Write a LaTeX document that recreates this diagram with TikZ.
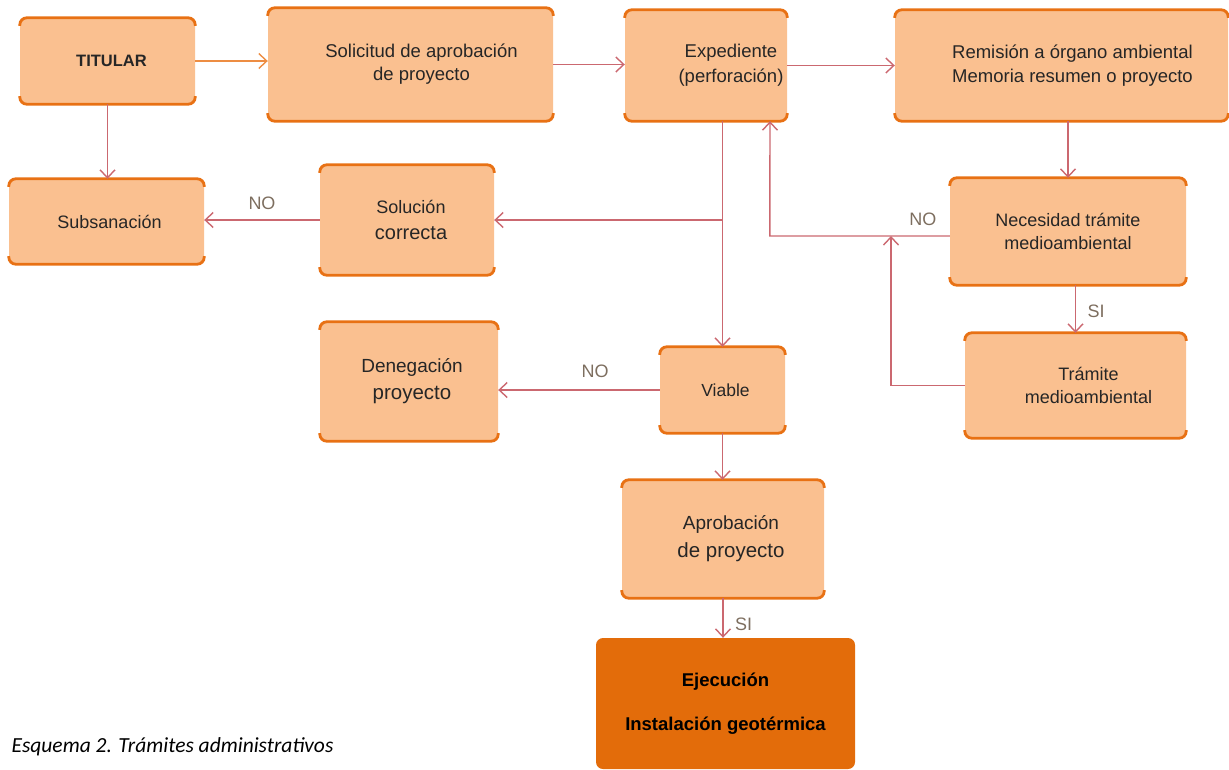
\documentclass[tikz,border=0pt]{standalone}
\usepackage{fontspec}
\setmainfont{Liberation Sans}
\newfontfamily\capfont{Carlito}
\usetikzlibrary{arrows.meta, positioning}

\definecolor{boxfill}{RGB}{250,192,144}
\definecolor{rimc}{RGB}{232,113,20}
\definecolor{darkfill}{RGB}{227,108,10}
\definecolor{linkc}{RGB}{203,104,112}
\definecolor{tagc}{RGB}{125,110,95}

\newcommand{\fs}[2]{\fontsize{#1}{#2}\selectfont}

\begin{document}
\begin{tikzpicture}[
    x=1pt, y=-1pt,
    box/.style={fill=boxfill, rounded corners=7pt, align=center, inner sep=0pt, text=black!85},
    rim/.style={draw=rimc, line width=2.8pt, rounded corners=7pt},
    link/.style={draw=linkc, line width=1.4pt, -{Straight Barb[length=8pt, width=15pt]}},
    tag/.style={text=tagc, font=\fs{18}{20}},
]
\useasboundingbox (0,0) rectangle (1229,769);

% Cajas
\node[box, minimum width=175, minimum height=86, font=\bfseries\fs{16.5}{20}] (tit) at (107.5,61) {\hspace*{8pt}TITULAR};
\node[box, minimum width=285, minimum height=113, font=\fs{18.5}{23}] (sol) at (410.5,64.5) {\hspace*{22pt}Solicitud de aprobación\\\hspace*{22pt}de proyecto};
\node[box, minimum width=162, minimum height=111, font=\fs{18.5}{25}] (exp) at (706,65.5) {\hspace*{50pt}Expediente\\\hspace*{50pt}(perforación)};
\node[box, minimum width=333, minimum height=111, font=\fs{18.5}{24}] (rem) at (1061.5,65.5) {\hspace*{22pt}Remisión a órgano ambiental\\\hspace*{22pt}Memoria resumen o proyecto};
\node[box, minimum width=195, minimum height=85, font=\fs{18}{20}] (sub) at (106.5,221.5) {\hspace*{6pt}Subsanación};
\node[box, minimum width=174, minimum height=110, font=\fs{18}{26}] (solc) at (407,220) {\hspace*{8pt}Solución\\{\fs{20}{26}\hspace*{8pt}correcta}};
\node[box, minimum width=236, minimum height=107, font=\fs{18}{23}] (nec) at (1068,231.5) {Necesidad trámite\\medioambiental};
\node[box, minimum width=221, minimum height=105, font=\fs{18}{23}] (tram) at (1075.5,385.5) {\hspace*{26pt}Trámite\\\hspace*{26pt}medioambiental};
\node[box, minimum width=178, minimum height=119, font=\fs{19}{27}] (den) at (409,381.5) {\hspace*{6pt}Denegación\\{\fs{20.5}{27}\hspace*{6pt}proyecto}};
\node[box, minimum width=125, minimum height=86, font=\fs{17.5}{20}] (via) at (722.5,390) {\hspace*{6pt}Viable};
\node[box, minimum width=202, minimum height=118, font=\fs{19}{28}] (apr) at (723,539) {\hspace*{16pt}Aprobación\\{\fs{20.5}{28}\hspace*{16pt}de proyecto}};
\node[box, fill=darkfill, minimum width=259, minimum height=131, font=\bfseries\fs{18.5}{22}, text=black] (eje) at (725.5,703.5) {Ejecución\\[22pt]Instalación geotérmica};

% Bordes superior e inferior
\foreach \b in {tit,sol,exp,rem,sub,solc,nec,tram,den,via,apr}{
  \draw[rim] ([yshift=-8pt]\b.north west) -- (\b.north west) -- (\b.north east) -- ([yshift=-8pt]\b.north east);
  \draw[rim] ([yshift=8pt]\b.south west) -- (\b.south west) -- (\b.south east) -- ([yshift=8pt]\b.south east);
}

% Conexiones
\coordinate (branch) at (via.north |- solc.east);
\coordinate (merge) at (891,236);
\draw[link, draw=rimc!80] (tit.east) -- (tit.east -| sol.west);
\draw[link] (sol.east) -- (sol.east -| exp.west);
\draw[link] (exp.east) -- (rem.west);
\draw[link] (tit.south) -- (tit.south |- sub.north);
\draw[link] (nec.north |- rem.south) -- (nec.north);
\draw[link] (via.north |- exp.south) -- (via.north);
\draw[link] (branch) -- (solc.east);
\draw[link] (solc.west) -- node[tag, above=6pt] {NO} (solc.west -| sub.east);
\draw[link] ([yshift=-4.5pt]nec.west) -- node[tag, pos=0.15, above=6pt] {NO} ++(-180,0) -- ([xshift=64pt]exp.south);
\draw[link] (tram.west) -| (merge);
\draw[link] (tram.north |- nec.south) -- node[tag, pos=0.55, right=8pt] {SI} (tram.north);
\draw[link] (via.west) -- node[tag, pos=0.4, above=8pt] {NO} (via.west -| den.east);
\draw[link] (via.south) -- (via.south |- apr.north);
\draw[link] (apr.south) -- node[tag, pos=0.65, right=8pt] {SI} (apr.south |- eje.north);

% Pie
\node[anchor=base west, font=\capfont\itshape\fs{21.5}{24}] (pie) at (8,752) {Esquema 2. Trámites administrativos};

\end{tikzpicture}
\end{document}
